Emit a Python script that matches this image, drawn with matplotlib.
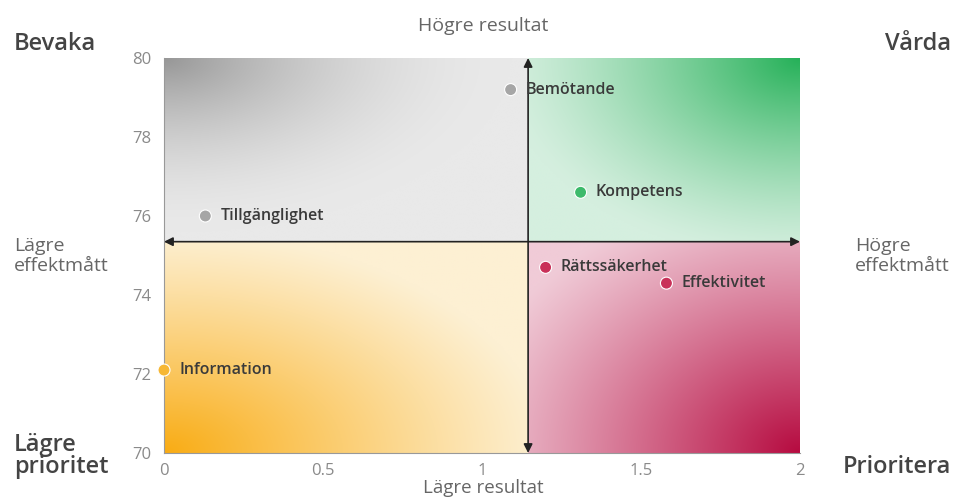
import numpy as np
import matplotlib.pyplot as plt
from matplotlib.colors import to_rgb

plt.rcParams['font.family'] = ['Open Sans', 'DejaVu Sans']

# data
names = ['Bemötande', 'Kompetens', 'Tillgänglighet', 'Rättssäkerhet', 'Effektivitet', 'Information']
x_vals = [1.09, 1.31, 0.13, 1.20, 1.58, 0.0]
y_vals = [79.2, 76.6, 76.0, 74.7, 74.3, 72.1]
colors = ['#a6a6a6', '#3dba6b', '#a6a6a6', '#c93159', '#c93159', '#f6b734']

x_split = 1.145
y_split = 75.35
x_ticks = [0, 0.5, 1, 1.5, 2]
x_ticklabels = ['0', '0.5', '1', '1.5', '2']
y_ticks = [70, 72, 74, 76, 78, 80]

W, H = 955, 497
fig = plt.figure(figsize=(W / 100, H / 100), dpi=100)
ax = fig.add_axes([164 / W, 1 - 453 / H, 636 / W, 395 / H])


def quad(x0, x1, y0, y1, cx, cy, dark, light, power=1.6, reach=1.0):
    nx, ny = 200, 120
    gx = np.linspace(0, 1, nx)
    gy = np.linspace(0, 1, ny)
    X, Y = np.meshgrid(gx, gy)
    d = np.sqrt((X - cx) ** 2 + (Y - cy) ** 2) / reach
    t = np.clip(1 - d, 0, 1) ** power
    dk = np.array(to_rgb(dark))
    lt = np.array(to_rgb(light))
    img = lt[None, None, :] * (1 - t[..., None]) + dk[None, None, :] * t[..., None]
    ax.imshow(img, extent=[x0, x1, y0, y1], origin='lower', aspect='auto',
              zorder=0, interpolation='bilinear')


quad(0, x_split, y_split, 80, 0, 1, '#979797', '#e9e9e9', 1.8, 0.95)
quad(x_split, 2, y_split, 80, 1, 1, '#26b159', '#d5efdf', 1.3, 1.1)
quad(0, x_split, 70, y_split, 0, 0, '#f9ac14', '#fdf0d3', 1.1, 1.05)
quad(x_split, 2, 70, y_split, 1, 0, '#b60b40', '#f0cbd7', 1.1, 1.25)
ax.set_xlim(0, 2)
ax.set_ylim(70, 80)

ax.annotate('', xy=(2, y_split), xytext=(0, y_split),
            arrowprops=dict(arrowstyle='<|-|>', color='#222222', lw=1.2,
                            shrinkA=0, shrinkB=0, mutation_scale=13))
ax.annotate('', xy=(x_split, 80), xytext=(x_split, 70),
            arrowprops=dict(arrowstyle='<|-|>', color='#222222', lw=1.2,
                            shrinkA=0, shrinkB=0, mutation_scale=13))

ax.scatter(x_vals, y_vals, s=75, c=colors, edgecolors='white', linewidths=0.8,
           zorder=5, clip_on=False)
for n, xv, yv in zip(names, x_vals, y_vals):
    ax.annotate(n, (xv, yv), xytext=(11, 0), textcoords='offset points',
                va='center', ha='left', fontsize=11.5, fontweight='semibold',
                color='#3a3a3a', zorder=6)

for s in ['top', 'right']:
    ax.spines[s].set_visible(False)
for s in ['left', 'bottom']:
    ax.spines[s].set_color('#999999')
    ax.spines[s].set_linewidth(0.8)

ax.set_xticks(x_ticks)
ax.set_xticklabels(x_ticklabels)
ax.set_yticks(y_ticks)
ax.tick_params(length=0, labelsize=12, labelcolor='#8a8a8a')
ax.tick_params(axis='x', pad=7)
ax.tick_params(axis='y', pad=9)


def fx(px):
    return px / W


def fy(py):
    return 1 - py / H


big = dict(fontsize=17, color='#444444', fontweight='semibold')
fig.text(fx(14), fy(50), 'Bevaka', ha='left', va='baseline', **big)
fig.text(fx(951), fy(50), 'Vårda', ha='right', va='baseline', **big)
fig.text(fx(14), fy(451), 'Lägre', ha='left', va='baseline', **big)
fig.text(fx(14), fy(473), 'prioritet', ha='left', va='baseline', **big)
fig.text(fx(951), fy(473), 'Prioritera', ha='right', va='baseline', **big)

mid = dict(fontsize=14, color='#666666')
fig.text(fx(483), fy(31), 'Högre resultat', ha='center', va='baseline', **mid)
fig.text(fx(483), fy(493), 'Lägre resultat', ha='center', va='baseline', fontsize=13.5, color='#666666')
fig.text(fx(14), fy(251), 'Lägre', ha='left', va='baseline', **mid)
fig.text(fx(14), fy(271), 'effektmått', ha='left', va='baseline', **mid)
fig.text(fx(855), fy(251), 'Högre', ha='left', va='baseline', **mid)
fig.text(fx(855), fy(271), 'effektmått', ha='left', va='baseline', **mid)

fig.savefig('out.png', dpi=100)
